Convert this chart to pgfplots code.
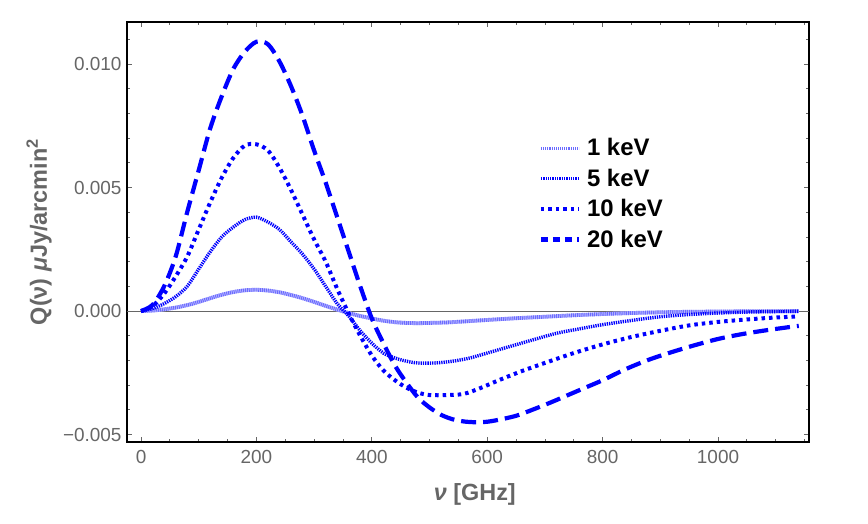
\documentclass[border=0pt]{standalone}
\usepackage{fontspec}
\setmainfont{Liberation Sans}
\usepackage{pgfplots}
\pgfplotsset{compat=1.18}
\definecolor{lab}{gray}{0.4}
\definecolor{lightb}{rgb}{0.42,0.42,1}
\definecolor{paleb}{rgb}{0.75,0.75,1}

\pgfplotstableread{
x y
0 0
20 0.00002
40 0.00007
60 0.00014
80 0.00024
100 0.00037
120 0.00052
140 0.00066
160 0.00077
180 0.00084
200 0.00086
220 0.00083
240 0.00076
260 0.00065
280 0.00052
300 0.00037
320 0.00021
340 0.00006
360 -0.00008
380 -0.00020
400 -0.00030
420 -0.00039
440 -0.00045
460 -0.00048
480 -0.00049
500 -0.00048
530 -0.00046
560 -0.00042
600 -0.00036
650 -0.00029
700 -0.00023
750 -0.00017
800 -0.00012
850 -0.00008
900 -0.00005
950 -0.00003
1000 -0.00002
1050 -0.00001
1100 -0.00001
1140 0
}\onekev

\begin{document}
\begin{tikzpicture}
\path[use as bounding box] (-127bp,-82bp) rectangle (741bp,442bp);
\begin{axis}[
 at={(0,0)}, anchor=south west,
 scale only axis, width=682bp, height=420bp,
 xmin=-24.3, xmax=1157.7, ymin=-0.0053, ymax=0.0117,
 axis line style={black, line width=1.8bp},
 xtick={0,200,400,600,800,1000}, xticklabels={0,200,400,600,800,1000},
 minor xtick={50,100,150,250,300,350,450,500,550,650,700,750,850,900,950,1050,1100,1150},
 ytick={-0.005,0,0.005,0.01}, yticklabels={−0.005,0.000,0.005,0.010},
 minor ytick={-0.004,-0.003,-0.002,-0.001,0.001,0.002,0.003,0.004,0.006,0.007,0.008,0.009,0.011},
 scaled y ticks=false,
 tick style={lab, line width=0.8bp},
 major tick length=5bp, minor tick length=3bp,
 tick align=inside,
 ticklabel style={font=\fontsize{19}{19}\selectfont, text=lab},
 xticklabel style={yshift=-5bp},
 yticklabel style={xshift=-2bp},
 xlabel={\textit{ν} [GHz]},
 ylabel={Q(ν) \textit{μ}Jy/arcmin\textsuperscript{2}},
 label style={font=\bfseries\fontsize{23.5}{24}\selectfont, text=lab},
 xlabel style={at={(axis description cs:0.51,-0.124)}, anchor=center},
 ylabel style={at={(axis description cs:-0.129,0.5)}, anchor=center},
 extra y ticks={0}, extra y tick labels={},
 extra y tick style={grid=major, major grid style={lab, line width=0.8bp}},
 legend style={at={(axis cs:684,0.00715)}, anchor=north west, draw=none, fill=none,
   font=\bfseries\fontsize{24}{24}\selectfont, row sep=7.7bp, column sep=4bp,
   nodes={inner sep=2bp}},
 legend cell align=left,
 legend image code/.code={\draw[#1] (0bp,0bp) -- (38bp,0bp);},
]
% 1 keV (pale band under a fine hatch)
\addplot[paleb, line width=3.8bp, smooth, forget plot] table {\onekev};
\addplot[lightb, line width=3.8bp, dash pattern=on 1bp off 0.9bp, smooth,
  legend image post style={line width=3bp}] table {\onekev};
\addlegendentry{1 keV}
% 5 keV
\addplot[blue, line width=3.4bp, dash pattern=on 1.3bp off 1bp, smooth] table {
x y
0 0
20 0.0001
40 0.0003
60 0.00058
80 0.0010
100 0.0017
120 0.0024
140 0.0030
160 0.0034
180 0.0037
200 0.0038
220 0.0036
240 0.0033
260 0.0028
280 0.0023
300 0.0017
320 0.0010
340 0.0003
360 -0.0002
380 -0.0008
400 -0.0013
420 -0.0017
440 -0.0019
460 -0.00203
480 -0.0021
510 -0.0021
540 -0.00203
570 -0.0019
600 -0.0017
640 -0.00143
680 -0.00116
720 -0.0009
760 -0.00072
800 -0.00055
850 -0.00038
900 -0.00023
950 -0.00014
1000 -0.00008
1050 -0.00004
1100 -0.00002
1140 -0.00001
};
\addlegendentry{5 keV}
% 10 keV
\addplot[blue, line width=4bp, dash pattern=on 3.5bp off 4bp, smooth] table {
x y
0 0
20 0.0002
40 0.0007
60 0.0014
80 0.0022
100 0.0033
120 0.0044
140 0.0054
160 0.0062
180 0.0067
200 0.00675
220 0.0065
240 0.0058
260 0.0049
280 0.0039
300 0.0029
320 0.0020
340 0.0009
360 -0.0001
380 -0.0010
400 -0.0018
420 -0.0024
440 -0.0028
460 -0.0031
480 -0.0033
500 -0.0034
530 -0.0034
560 -0.00335
590 -0.0031
620 -0.0028
660 -0.00243
700 -0.0021
750 -0.0017
800 -0.00135
850 -0.00105
900 -0.0008
950 -0.00058
1000 -0.00044
1050 -0.00034
1100 -0.00026
1140 -0.00022
};
\addlegendentry{10 keV}
% 20 keV
\addplot[blue, line width=4.2bp, dash pattern=on 15bp off 7bp, smooth,
  legend image post style={dash pattern=on 7bp off 5bp}] table {
x y
0 0
20 0.00025
40 0.0010
60 0.0022
80 0.0040
100 0.0057
120 0.0074
140 0.0087
160 0.0098
180 0.0105
200 0.0109
220 0.0108
240 0.0101
260 0.0091
280 0.0079
300 0.0065
320 0.0052
340 0.0038
360 0.0024
380 0.0010
400 -0.0003
420 -0.0013
440 -0.0022
460 -0.0029
480 -0.0035
500 -0.0039
520 -0.0042
540 -0.00438
560 -0.00447
580 -0.0045
600 -0.00448
620 -0.0044
650 -0.00424
680 -0.00398
710 -0.0037
740 -0.0034
770 -0.0031
800 -0.0028
840 -0.00235
880 -0.00197
920 -0.00166
960 -0.00138
1000 -0.00113
1040 -0.00094
1080 -0.00079
1120 -0.00066
1140 -0.0006
};
\addlegendentry{20 keV}
\end{axis}
\end{tikzpicture}
\end{document}
